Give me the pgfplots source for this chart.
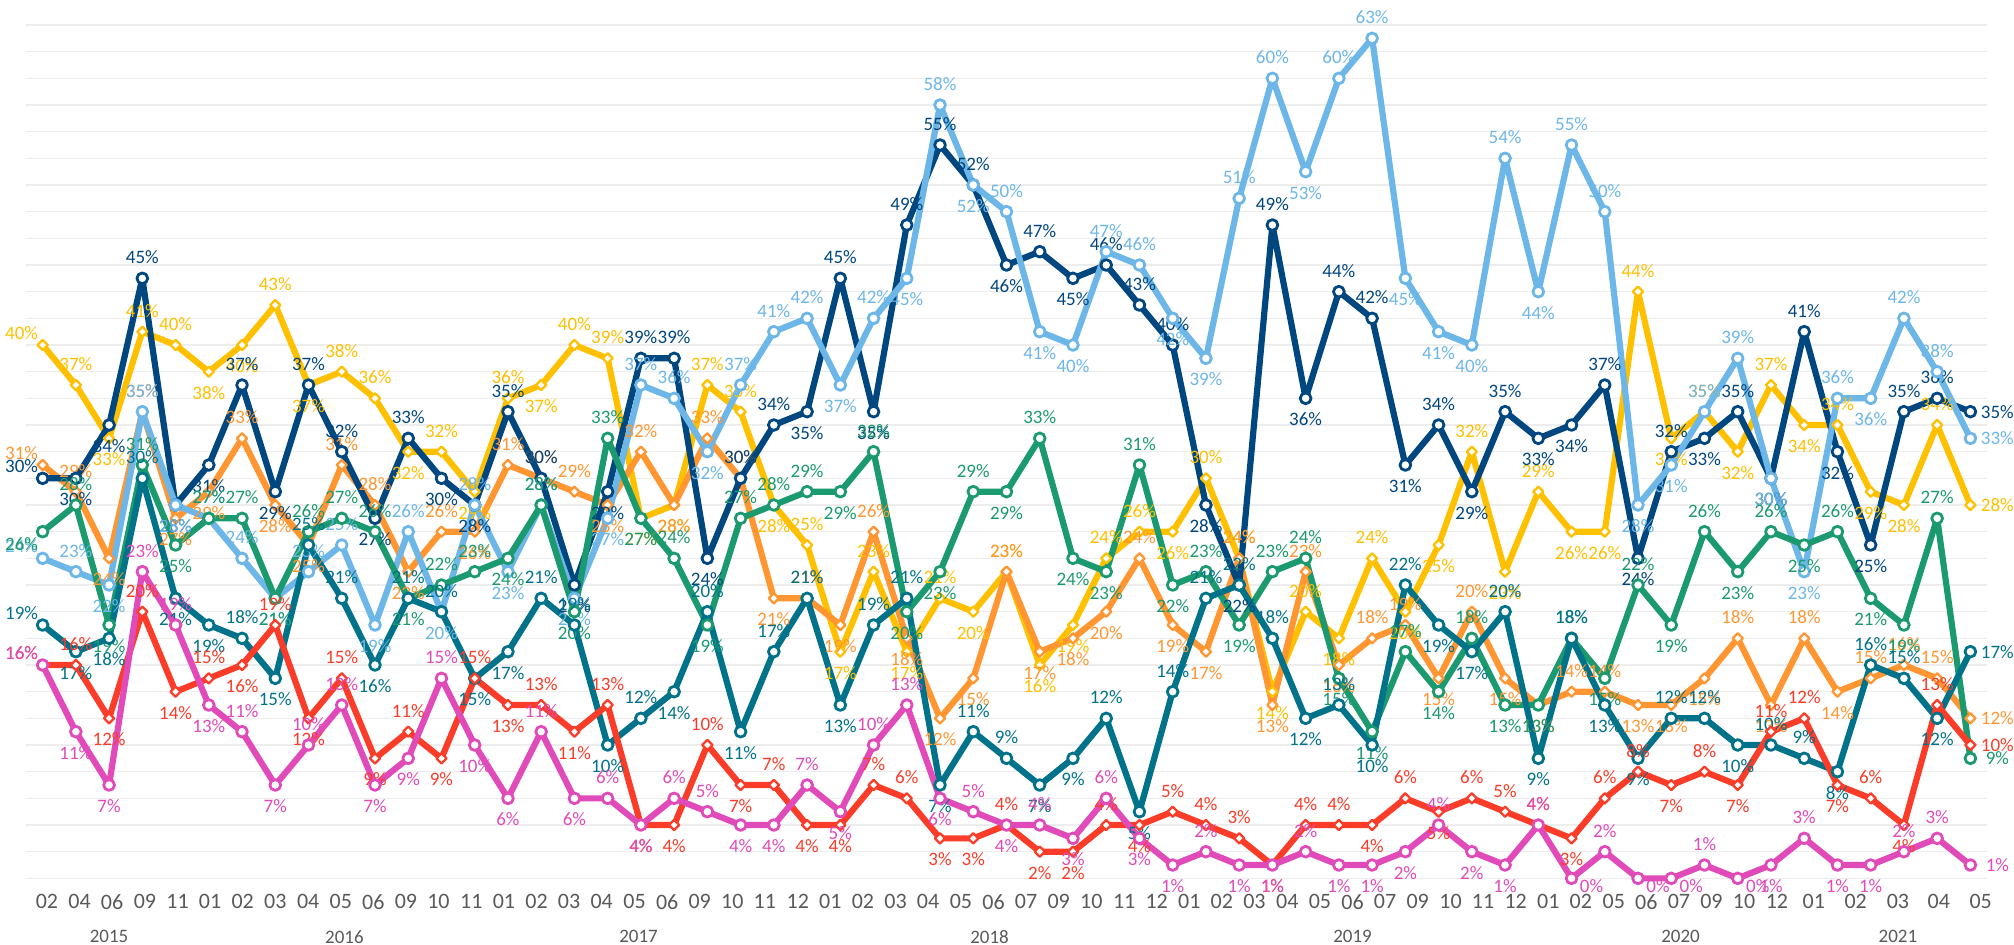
\documentclass[border=0pt]{standalone}
\usepackage{pgfplots}
\pgfplotsset{compat=1.18}
\usepackage{pgfplotstable}
\usepackage{fontspec}
\setmainfont{Carlito}
\definecolor{cnavy}{HTML}{00467F}
\definecolor{clb}{HTML}{6CB6E8}
\definecolor{cyel}{HTML}{FFC000}
\definecolor{corg}{HTML}{FF9632}
\definecolor{cgrn}{HTML}{1A9A6E}
\definecolor{cteal}{HTML}{00728A}
\definecolor{cred}{HTML}{FA3C28}
\definecolor{cmag}{HTML}{E04BB9}
\definecolor{ctick}{HTML}{595959}
\pgfplotstableread{
x navy lb yel org grn teal red mag
0 30 24 40 31 26 19 16 16
1 30 23 37 29 28 17 16 11
2 34 22 33 24 19 18 12 7
3 45 35 41 35 31 30 20 23
4 28 28 40 27 25 21 14 19
5 31 27 38 29 27 19 15 13
6 37 24 40 33 27 18 16 11
7 29 21 43 28 21 15 19 7
8 37 23 37 25 26 25 12 10
9 32 25 38 31 27 21 15 13
10 27 19 36 28 26 16 9 7
11 33 26 32 23 21 21 11 9
12 30 20 32 26 22 20 9 15
13 28 28 29 26 23 15 15 10
14 35 23 36 31 24 17 13 6
15 30 28 37 30 28 21 13 11
16 22 21 40 29 20 19 11 6
17 29 27 39 28 33 10 13 6
18 39 37 27 32 27 12 4 4
19 39 36 28 28 24 14 4 6
20 24 32 37 33 19 20 10 5
21 30 37 35 30 27 11 7 4
22 34 41 28 21 28 17 7 4
23 35 42 25 21 29 21 4 7
24 45 37 17 19 29 13 4 5
25 35 42 23 26 32 19 7 10
26 49 45 17 18 20 21 6 13
27 55 58 21 12 23 7 3 6
28 52 52 20 15 29 11 3 5
29 46 50 23 23 29 9 4 4
30 47 41 16 17 33 7 2 4
31 45 40 19 18 24 9 2 3
32 46 47 24 20 23 12 4 6
33 43 46 26 24 31 5 4 3
34 40 42 26 19 22 14 5 1
35 28 39 30 17 23 21 4 2
36 22 51 24 24 19 22 3 1
37 49 60 14 13 23 18 1 1
38 36 53 20 23 24 12 4 2
39 44 60 18 16 15 13 4 1
40 42 63 24 18 11 10 4 1
41 31 45 20 19 17 22 6 2
42 34 41 25 15 14 19 5 4
43 29 40 32 20 18 17 6 2
44 35 54 23 15 13 20 5 1
45 33 44 29 13 13 9 4 4
46 34 55 26 14 18 18 3 0
47 37 50 26 14 15 13 6 2
48 24 28 44 13 22 9 8 0
49 32 31 33 13 19 12 7 0
50 33 35 35 15 26 12 8 1
51 35 39 32 18 23 10 7 0
52 30 30 37 13 26 10 11 1
53 41 23 34 18 25 9 12 3
54 32 36 34 14 26 8 7 1
55 25 36 29 15 21 16 6 1
56 35 42 28 16 19 15 4 2
57 36 38 34 15 27 12 13 3
58 35 33 28 12 9 17 10 1
}\data
% label offsets: above local peaks, below local troughs, sideways at the ends
\newcommand\lblcalc[1]{%
  \getthisrow{#1}\cur
  \ifnum\pgfplotstablerow=0 \let\prv\cur \else \getprevrow{#1}\prv \fi
  \ifnum\pgfplotstablerow=58 \let\nxt\cur \else \getnextrow{#1}\nxt \fi
  \pgfmathsetmacro\sgn{(2*\cur >= \prv+\nxt) ? 1 : -1}%
  \pgfmathsetmacro\lys{\sgn>0 ? 10.5 : max(-10.5,-4-6.667*\cur)}%
  \pgfmathsetmacro\lxs{\cur<0.5 ? 10 : 0}%
  \ifnum\pgfplotstablerow=0 \pgfmathsetmacro\lys{6*\sgn}\def\lxs{-10.5}\fi
  \ifnum\pgfplotstablerow=58 \def\lys{0}\def\lxs{13.5}\fi
}
\newcommand\mkpos[1]{%
  \pgfplotstablecreatecol[create col/assign/.code={\lblcalc{#1}%
    \pgfkeyslet{/pgfplots/table/create col/next content}\lys}]{#1p}{\data}%
  \pgfplotstablecreatecol[create col/assign/.code={\lblcalc{#1}%
    \pgfkeyslet{/pgfplots/table/create col/next content}\lxs}]{#1q}{\data}%
}
\mkpos{navy}\mkpos{lb}\mkpos{yel}\mkpos{org}\mkpos{grn}\mkpos{teal}\mkpos{red}\mkpos{mag}
\pgfplotsset{
  ser/.style={line width=3.1pt, line join=round, color=#1,
    every node near coord/.append style={text=#1}},
  circ/.style={mark=*, mark size=2.7pt,
    mark options={solid, fill=white, draw=#1, line width=1.4pt}},
  diam/.style={mark=square*, mark size=1.8pt,
    mark options={solid, fill=white, draw=#1, line width=1.15pt, rotate=45}},
  lp/.style={visualization depends on={\thisrow{#1p} \as \pp},
    visualization depends on={\thisrow{#1q} \as \qq},
    every node near coord/.append style={yshift=\pp pt, xshift=\qq pt}},
}
\begin{document}
\begin{tikzpicture}
\begin{axis}[name=ax, scale only axis, width=980.5pt, height=426.67pt,
  xmin=-0.5, xmax=58.5, ymin=0, ymax=64, clip=false,
  axis line style={draw=none}, major tick length=0pt,
  ytick={0,2,...,64}, yticklabels={},
  ymajorgrids, grid style={color=black!7, line width=0.6pt},
  xtick={0.13,1.11,2.09,3.08,4.06,5.04,6.02,7.00,7.99,8.97,9.95,10.93,11.91,12.90,13.88,14.86,15.84,16.82,17.81,18.79,19.77,20.75,21.73,22.72,23.70,24.68,25.66,26.64,27.63,28.61,29.59,30.57,31.55,32.54,33.52,34.50,35.48,36.46,37.45,38.43,39.41,40.39,41.37,42.36,43.34,44.32,45.30,46.28,47.27,48.25,49.23,50.21,51.19,52.18,53.29,54.55,55.82,57.05,58.31},
  xticklabels={02,04,06,09,11,01,02,03,04,05,06,09,10,11,01,02,03,04,05,06,09,10,11,12,01,02,03,04,05,06,07,09,10,11,12,01,02,03,04,05,06,07,09,10,11,12,01,02,05,06,07,09,10,12,01,02,03,04,05},
  xticklabel style={font=\fontsize{11}{12}\selectfont, text=ctick, anchor=center, yshift=-11.7pt},
  point meta=y,
  nodes near coords={\pgfmathprintnumber[fixed,precision=0,assume math mode=true]{\pgfplotspointmeta}\%},
  every node near coord/.append style={font=\fontsize{9.5}{10}\selectfont, anchor=center, inner sep=0.5pt},
]
\addplot[ser=cyel, diam=cyel, lp=yel] table[x=x,y=yel] {\data};
\addplot[ser=corg, diam=corg, lp=org] table[x=x,y=org] {\data};
\addplot[ser=cnavy, circ=cnavy, lp=navy] table[x=x,y=navy] {\data};
\addplot[ser=clb, circ=clb, lp=lb] table[x=x,y=lb] {\data};
\addplot[ser=cgrn, circ=cgrn, lp=grn] table[x=x,y=grn] {\data};
\addplot[ser=cteal, circ=cteal, lp=teal] table[x=x,y=teal] {\data};
\addplot[ser=cred, diam=cred, lp=red] table[x=x,y=red] {\data};
\addplot[ser=cmag, circ=cmag, lp=mag] table[x=x,y=mag] {\data};
\begin{scope}[every node/.style={font=\fontsize{9.5}{10}\selectfont, text=ctick, yshift=-29.2pt}]
\node at (axis cs:2.0,0) {2015};
\node at (axis cs:9.08,0) {2016};
\node at (axis cs:17.93,0) {2017};
\node at (axis cs:28.49,0) {2018};
\node at (axis cs:39.41,0) {2019};
\node at (axis cs:49.28,0) {2020};
\node at (axis cs:55.82,0) {2021};
\end{scope}
\end{axis}
\pgfresetboundingbox
\path[use as bounding box] ([xshift=-13pt,yshift=-32.85pt]ax.south west) rectangle ([xshift=13.5pt,yshift=12.5pt]ax.north east);
\end{tikzpicture}
\end{document}
